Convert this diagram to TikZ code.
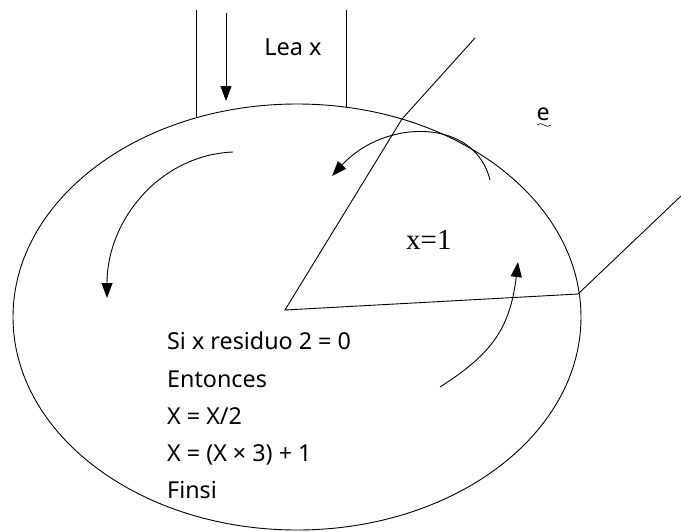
\documentclass[tikz,border=0pt]{standalone}
\usepackage{fontspec}
\setmainfont{Noto Sans}
\newfontfamily\serifx{Liberation Serif}
\usetikzlibrary{arrows.meta,shapes.geometric}
\begin{document}
\begin{tikzpicture}[x=1pt,y=-1pt,
  ln/.style={line width=0.9pt,black},
  arr/.style={ln,-{Triangle[length=15pt,width=11pt]}},
  txt/.style={anchor=base west,inner sep=0pt,font=\fontsize{23.3}{28}\selectfont}]
\useasboundingbox (0,0) rectangle (681,531);
% ellipse
\node[ellipse,draw,line width=0.9pt,minimum width=568pt,minimum height=426pt,inner sep=0pt] (ell) at (297,317) {};
% input channel
\coordinate (vl1) at (196,10);
\coordinate (vl2) at (196,118);
\coordinate (vr1) at (346,10);
\coordinate (vr2) at (346,107);
\draw[ln] (vl1) -- (vl2);
\draw[ln] (vr1) -- (vr2);
\coordinate (a1) at (226,13);
\coordinate (a2) at (226,101);
\draw[arr] (a1) -- (a2);
\node[anchor=center,inner sep=0pt,font=\fontsize{23.5}{28}\selectfont] (lea) at (293,47) {Lea x};
% wedge
\coordinate (p1) at (475,38);
\coordinate (p2) at (402,119);
\coordinate (p3) at (285,310);
\coordinate (p4) at (578,294);
\coordinate (p5) at (681,196);
\draw[ln] (p1) -- (p2) -- (p3) -- (p4) -- (p5);
% curved arrows
\coordinate (c1s) at (233,152);
\coordinate (c1e) at (107,298);
\draw[arr] (c1s) .. controls (160,155) and (107,220) .. (c1e);
\coordinate (c2s) at (490,180);
\coordinate (c2e) at (332,176);
\draw[arr] (c2s) .. controls (475,118) and (385,118) .. (c2e);
\coordinate (c3s) at (440,387);
\coordinate (c3e) at (518,262);
\draw[arr] (c3s) .. controls (490,355) and (510,330) .. (c3e);
% labels
\node[anchor=base west,inner sep=0pt,font=\serifx\fontsize{29}{34}\selectfont] (x1) at (406,249) {x=1};
\node[anchor=base west,inner sep=0pt,font=\fontsize{23.3}{28}\selectfont] (e) at (536.5,120) {e};
\draw[line width=0.6pt] (537,125) sin (540.5,123.6) cos (544,125) sin (547.5,126.4) cos (551,125);
\node[txt] (t1) at (167,349) {Si x residuo 2 = 0};
\node[txt] (t2) at (167,387) {Entonces};
\node[txt] (t3) at (167,424) {X = X/2};
\node[txt] (t4) at (167,461) {X = (X × 3) + 1};
\node[txt] (t5) at (167,498) {Finsi};
\end{tikzpicture}
\end{document}
